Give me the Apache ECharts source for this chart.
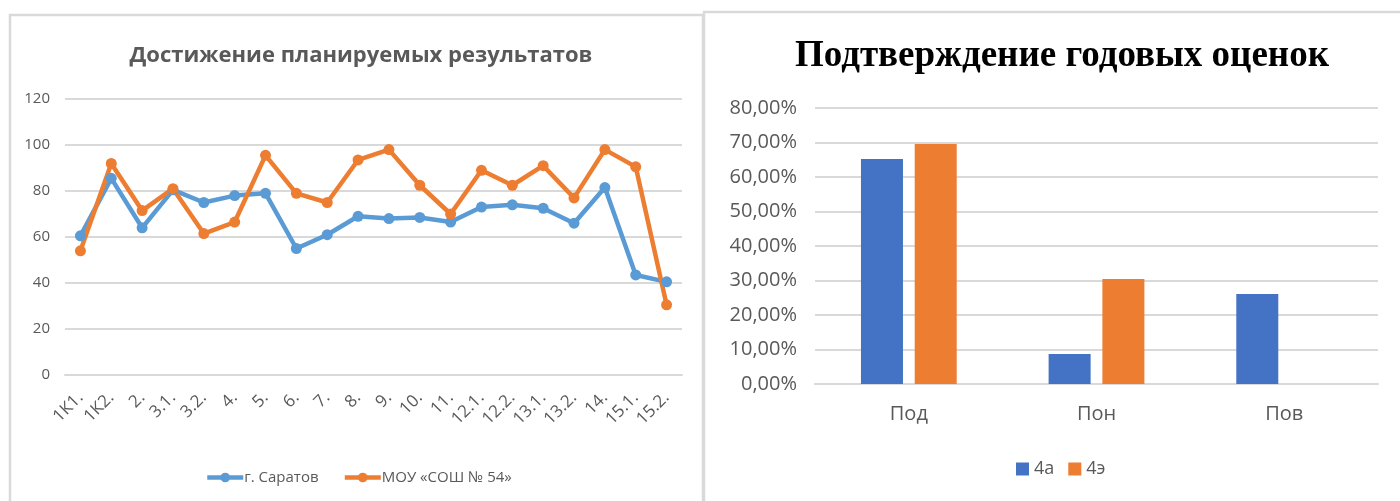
<!DOCTYPE html>
<html>
<head>
<meta charset="utf-8">
<script src="https://cdn.jsdelivr.net/npm/echarts@6/dist/echarts.min.js"></script>
<style>
  html, body { margin: 0; padding: 0; background: #fff; }
  #chart { width: 1400px; height: 501px; }
</style>
</head>
<body>
<div id="chart"></div>
<script>
// левый график
const items = ['1К1.', '1К2.', '2.', '3.1.', '3.2.', '4.', '5.', '6.', '7.', '8.', '9.', '10.', '11.', '12.1.', '12.2.', '13.1.', '13.2.', '14.', '15.1.', '15.2.']
const saratov = [60.5, 85.5, 64, 80.5, 75, 78, 79, 55, 61, 69, 68, 68.5, 66.5, 73, 74, 72.5, 66, 81.5, 43.5, 40.5]
const school54 = [54, 92, 71.5, 81, 61.5, 66.5, 95.5, 79, 75, 93.5, 98, 82.5, 70, 89, 82.5, 91, 77, 98, 90.5, 30.5]
// правый график
const grades = ['Под', 'Пон', 'Пов']
const class4a = [0.652, 0.087, 0.261]
const class4e = [0.696, 0.304, 0]

const gray = '#595959'
const lineCol = '#d9d9d9'
const sans = '"Open Sans", sans-serif'

const chart = echarts.init(document.getElementById('chart'))
const option = {
  animation: false,
  backgroundColor: '#fff',
  graphic: [
    { type: 'rect', shape: { x: 10, y: 15, width: 693, height: 500 }, style: { fill: 'none', stroke: lineCol, lineWidth: 2.5 } },
    { type: 'rect', shape: { x: 704, y: 12, width: 710, height: 500 }, style: { fill: 'none', stroke: lineCol, lineWidth: 2.5 } }
  ],
  title: [
    {
      text: 'Достижение планируемых результатов',
      left: 356, top: 40, textAlign: 'center',
      textStyle: { fontFamily: sans, fontSize: 22, fontWeight: 'bold', color: gray }
    },
    {
      text: 'Подтверждение годовых оценок',
      left: 1057, top: 33, textAlign: 'center',
      textStyle: { fontFamily: '"Liberation Serif", serif', fontSize: 37, fontWeight: 'bold', color: '#000' }
    }
  ],
  legend: [
    {
      data: ['г. Саратов', 'МОУ «СОШ № 54»'],
      left: 200, top: 465, itemWidth: 36, itemHeight: 12, itemGap: 24,
      lineStyle: { width: 4.5 },
      textStyle: { fontFamily: sans, fontSize: 15, color: gray, padding: [0, 0, 0, -4] }
    },
    {
      data: ['4а', '4э'],
      left: 1011, top: 455, itemWidth: 13, itemHeight: 13, itemGap: 14, icon: 'rect',
      textStyle: { fontFamily: sans, fontSize: 18, color: gray }
    }
  ],
  grid: [
    { left: 65, top: 99, width: 617, height: 276 },
    { left: 815, top: 108, width: 563, height: 276 }
  ],
  xAxis: [
    {
      type: 'category', gridIndex: 0, data: items,
      axisLine: { lineStyle: { color: lineCol, width: 2 } },
      axisTick: { show: false },
      axisLabel: { rotate: 45, interval: 0, fontFamily: sans, fontSize: 17, color: gray, margin: 20 }
    },
    {
      type: 'category', gridIndex: 1, data: grades,
      axisLine: { lineStyle: { color: lineCol, width: 2 } },
      axisTick: { show: false },
      axisLabel: { fontFamily: sans, fontSize: 20, color: gray, margin: 20 }
    }
  ],
  yAxis: [
    {
      type: 'value', gridIndex: 0, min: 0, max: 120, interval: 20,
      splitLine: { lineStyle: { color: lineCol, width: 2 } },
      axisLabel: { fontFamily: sans, fontSize: 15, color: gray, margin: 15 }
    },
    {
      type: 'value', gridIndex: 1, min: 0, max: 0.8, interval: 0.1,
      splitLine: { lineStyle: { color: lineCol, width: 2 } },
      axisLabel: {
        fontFamily: sans, fontSize: 20, color: gray, margin: 18,
        formatter: v => (v * 100).toFixed(2).replace('.', ',') + '%'
      }
    }
  ],
  series: [
    {
      name: 'г. Саратов', type: 'line', xAxisIndex: 0, yAxisIndex: 0, data: saratov,
      symbol: 'circle', symbolSize: 11,
      lineStyle: { color: '#5b9bd5', width: 4.5 }, itemStyle: { color: '#5b9bd5' }
    },
    {
      name: 'МОУ «СОШ № 54»', type: 'line', xAxisIndex: 0, yAxisIndex: 0, data: school54,
      symbol: 'circle', symbolSize: 11,
      lineStyle: { color: '#ed7d31', width: 4.5 }, itemStyle: { color: '#ed7d31' }
    },
    {
      name: '4а', type: 'bar', xAxisIndex: 1, yAxisIndex: 1, data: class4a,
      barWidth: 42, barGap: '28%', itemStyle: { color: '#4472c4' }
    },
    {
      name: '4э', type: 'bar', xAxisIndex: 1, yAxisIndex: 1, data: class4e,
      barWidth: 42, barGap: '28%', itemStyle: { color: '#ed7d31' }
    }
  ]
}
chart.setOption(option)
</script>
</body>
</html>
